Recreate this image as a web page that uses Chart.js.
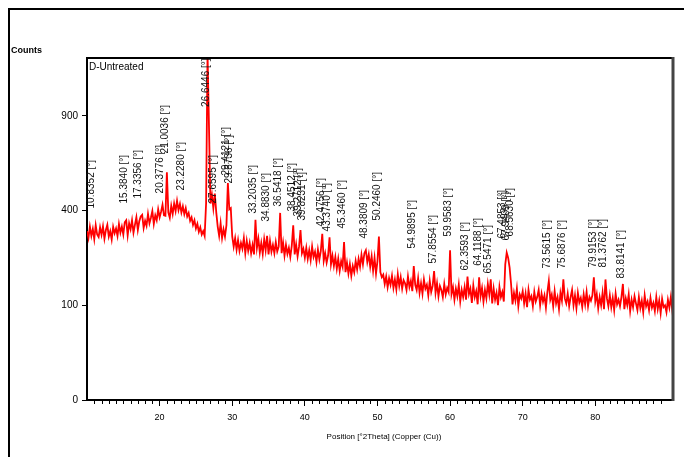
<!DOCTYPE html>
<html>
<head>
<meta charset="utf-8">
<script src="https://cdn.jsdelivr.net/npm/chart.js@4.4.1/dist/chart.umd.min.js"></script>
<style>
    html, body { margin: 0; padding: 0; background: #fff; }
    canvas { display: block; }
</style>
</head>
<body>
<canvas id="xrdChart" width="684" height="457"></canvas>
<script>
// Scan: start angle and step (°2Theta), counts
const startAngle = 10.0;
const stepAngle = 0.2;
const counts = [
    318, 292, 335, 300, 326, 288, 340, 305, 296, 332,   // 10
    304, 336, 290, 322, 342, 298, 318, 287, 334, 310,   // 12
    328, 300, 345, 312, 335, 305, 352, 360, 302, 348,   // 14
    325, 360, 312, 342, 372, 322, 356, 375, 382, 330,   // 16
    358, 338, 386, 348, 370, 398, 345, 380, 360, 405,   // 18
    372, 395, 425, 380, 378, 578, 392, 370, 420, 386,   // 20
    430, 398, 442, 402, 428, 392, 418, 385, 410, 375,   // 22
    390, 358, 372, 342, 360, 328, 346, 315, 332, 305,   // 24
    318, 300, 430, 1340, 830, 430, 470, 410, 475, 392,  // 26
    335, 300, 348, 292, 325, 298, 340, 525, 405, 410,   // 28
    298, 262, 292, 252, 285, 248, 275, 255, 292, 240,   // 30
    282, 248, 275, 240, 268, 236, 362, 258, 290, 242,   // 32
    275, 238, 288, 250, 300, 236, 282, 245, 268, 240,   // 34
    278, 246, 262, 390, 240, 276, 232, 268, 238, 258,   // 36
    228, 265, 340, 236, 270, 230, 262, 322, 240, 255,   // 38
    226, 258, 222, 250, 218, 262, 228, 245, 212, 252,   // 40
    220, 248, 308, 216, 240, 210, 232, 295, 205, 232,   // 42
    200, 228, 192, 222, 186, 215, 198, 278, 182, 210,   // 44
    178, 206, 172, 200, 182, 215, 190, 222, 198, 235,   // 46
    205, 240, 250, 212, 236, 198, 230, 186, 225, 178,   // 48
    215, 298, 182, 168, 175, 150, 170, 142, 165, 148,   // 50
    172, 140, 162, 136, 176, 145, 168, 138, 160, 152,   // 52
    135, 170, 142, 158, 132, 200, 148, 135, 165, 128,   // 54
    152, 126, 162, 138, 148, 122, 158, 130, 145, 185,   // 56
    128, 152, 120, 145, 135, 118, 150, 124, 140, 130,   // 58
    250, 125, 142, 112, 138, 120, 148, 108, 135, 118,   // 60
    142, 112, 170, 125, 138, 105, 146, 118, 132, 102,   // 62
    168, 120, 140, 108, 135, 115, 150, 124, 162, 104,   // 64
    138, 112, 128, 100, 142, 118, 130, 108, 205, 242,   // 66
    225, 195, 150, 102, 128, 110, 138, 98, 124, 115,    // 68
    132, 104, 126, 96, 135, 112, 120, 98, 130, 108,     // 70
    118, 135, 100, 126, 108, 122, 95, 130, 158, 112,    // 72
    124, 98, 132, 104, 118, 92, 128, 110, 162, 115,     // 74
    104, 126, 98, 118, 135, 100, 122, 94, 128, 106,     // 76
    116, 96, 124, 102, 130, 98, 118, 110, 122, 168,     // 78
    108, 125, 94, 118, 100, 128, 92, 162, 115, 98,      // 80
    122, 96, 116, 90, 126, 102, 112, 98, 118, 150,      // 82
    92, 115, 100, 124, 88, 112, 96, 120, 104, 90,       // 84
    118, 94, 110, 86, 122, 98, 108, 90, 116, 95,        // 86
    105, 88, 118, 92, 110, 84, 114, 96, 100, 86,        // 88
    112, 95, 118, 90, 104                               // 90
];

// Peak list
const peakAngles = [10.8352, 15.3840, 17.3356, 20.3776, 21.0036, 23.2280, 26.6446, 27.6595,
    29.4121, 29.8736, 33.2035, 34.8830, 36.5418, 38.4512, 39.2712, 39.8231, 42.4756, 43.3740,
    45.3460, 48.3809, 50.2460, 54.9895, 57.8554, 59.9583, 62.3593, 64.1188, 65.5471, 67.4853,
    67.9409, 68.5630, 73.5615, 75.6876, 79.9153, 81.3762, 83.8141];
const peakLabels = peakAngles.map(a => a.toFixed(4) + ' [°]');
// where the top end of each label sits, in counts
const labelTops = [642, 669, 696, 725, 970, 742, 1300, 669,
    830, 782, 615, 574, 652, 626, 600, 579, 549, 525,
    539, 491, 579, 446, 381, 501, 353, 369, 341, 491,
    482, 501, 361, 361, 365, 365, 322];

const yTickCounts = [0, 100, 400, 900];
const xTickLabels = [20, 30, 40, 50, 60, 70, 80, 90];
const seriesName = 'D-Untreated';

const twoTheta = counts.map((_, i) => +(startAngle + i * stepAngle).toFixed(1));
// square-root intensity axis
const points = counts.map((c, i) => ({ x: twoTheta[i], y: Math.sqrt(c) }));

const xrdDecor = {
    id: 'xrdDecor',
    afterDatasetsDraw(chart) {
        const { ctx, scales: { x, y } } = chart;
        ctx.save();
        ctx.fillStyle = '#111';
        ctx.font = '10px "Liberation Sans", Arial, sans-serif';
        ctx.textAlign = 'right';
        ctx.textBaseline = 'alphabetic';
        peakAngles.forEach((a, i) => {
            const px = x.getPixelForValue(a);
            const py = y.getPixelForValue(Math.sqrt(labelTops[i]));
            ctx.save();
            ctx.translate(px + 1, py);
            ctx.rotate(-Math.PI / 2);
            ctx.fillText(peakLabels[i], 0, 0);
            ctx.restore();
        });
        ctx.restore();
    },
    afterDraw(chart) {
        const { ctx, chartArea: ca, scales: { x } } = chart;
        ctx.save();
        // рамка графика
        ctx.strokeStyle = '#000';
        ctx.lineWidth = 2;
        ctx.beginPath();
        ctx.moveTo(ca.left - 1, ca.top);
        ctx.lineTo(ca.right, ca.top);
        ctx.stroke();
        ctx.strokeStyle = '#444';
        ctx.lineWidth = 3;
        ctx.beginPath();
        ctx.moveTo(ca.right, ca.top - 1);
        ctx.lineTo(ca.right, ca.bottom + 1);
        ctx.stroke();
        // outer frame
        ctx.strokeStyle = '#000';
        ctx.lineWidth = 2;
        ctx.beginPath();
        ctx.moveTo(9, 457);
        ctx.lineTo(9, 9);
        ctx.lineTo(684, 9);
        ctx.stroke();
        // minor ticks
        ctx.lineWidth = 1;
        for (let t = 11; t <= 90; t++) {
            if (t % 10 === 0) continue;
            const px = Math.round(x.getPixelForValue(t)) + 0.5;
            ctx.beginPath();
            ctx.moveTo(px, ca.bottom);
            ctx.lineTo(px, ca.bottom + 4);
            ctx.stroke();
        }
        // texts
        ctx.fillStyle = '#000';
        ctx.textBaseline = 'middle';
        ctx.textAlign = 'left';
        ctx.font = 'bold 9px "Liberation Sans", Arial, sans-serif';
        ctx.fillText('Counts', 11, 51);
        ctx.font = '10px "Liberation Sans", Arial, sans-serif';
        ctx.fillText(seriesName, 89, 67);
        ctx.textAlign = 'center';
        ctx.font = '8px "Liberation Sans", Arial, sans-serif';
        ctx.fillText('Position [°2Theta] (Copper (Cu))', 384, 437);
        ctx.restore();
    }
};

new Chart(document.getElementById('xrdChart').getContext('2d'), {
    type: 'line',
    data: {
        datasets: [{
            label: seriesName,
            data: points,
            borderColor: '#ff0000',
            borderWidth: 1.8,
            pointRadius: 0,
            tension: 0
        }]
    },
    options: {
        responsive: false,
        animation: false,
        devicePixelRatio: 1,
        layout: { padding: { top: 58, right: 11, left: 0, bottom: 0 } },
        plugins: {
            legend: { display: false },
            tooltip: { enabled: false }
        },
        scales: {
            x: {
                type: 'linear',
                min: 10,
                max: 90.7,
                afterFit: s => { s.height = 57; },
                ticks: {
                    stepSize: 1,
                    autoSkip: false,
                    maxRotation: 0,
                    padding: 6,
                    color: '#000',
                    font: { size: 9, family: '"Liberation Sans", Arial, sans-serif' },
                    callback: v => xTickLabels.includes(v) ? String(v) : ''
                },
                grid: {
                    drawOnChartArea: false,
                    drawTicks: true,
                    tickLength: 6,
                    color: c => (c.tick && xTickLabels.includes(c.tick.value)) ? '#000' : 'rgba(0,0,0,0)'
                },
                border: { display: true, color: '#000', width: 2 }
            },
            y: {
                type: 'linear',
                min: 0,
                max: 36.1,
                afterFit: s => { s.width = 87; },
                afterBuildTicks: s => { s.ticks = yTickCounts.map(c => ({ value: Math.sqrt(c) })); },
                ticks: {
                    padding: 4,
                    color: '#000',
                    font: { size: 10, family: '"Liberation Sans", Arial, sans-serif' },
                    callback: v => String(Math.round(v * v))
                },
                grid: {
                    drawOnChartArea: false,
                    drawTicks: true,
                    tickLength: 5,
                    color: '#000'
                },
                border: { display: true, color: '#000', width: 2 }
            }
        }
    },
    plugins: [xrdDecor]
});
</script>
</body>
</html>
